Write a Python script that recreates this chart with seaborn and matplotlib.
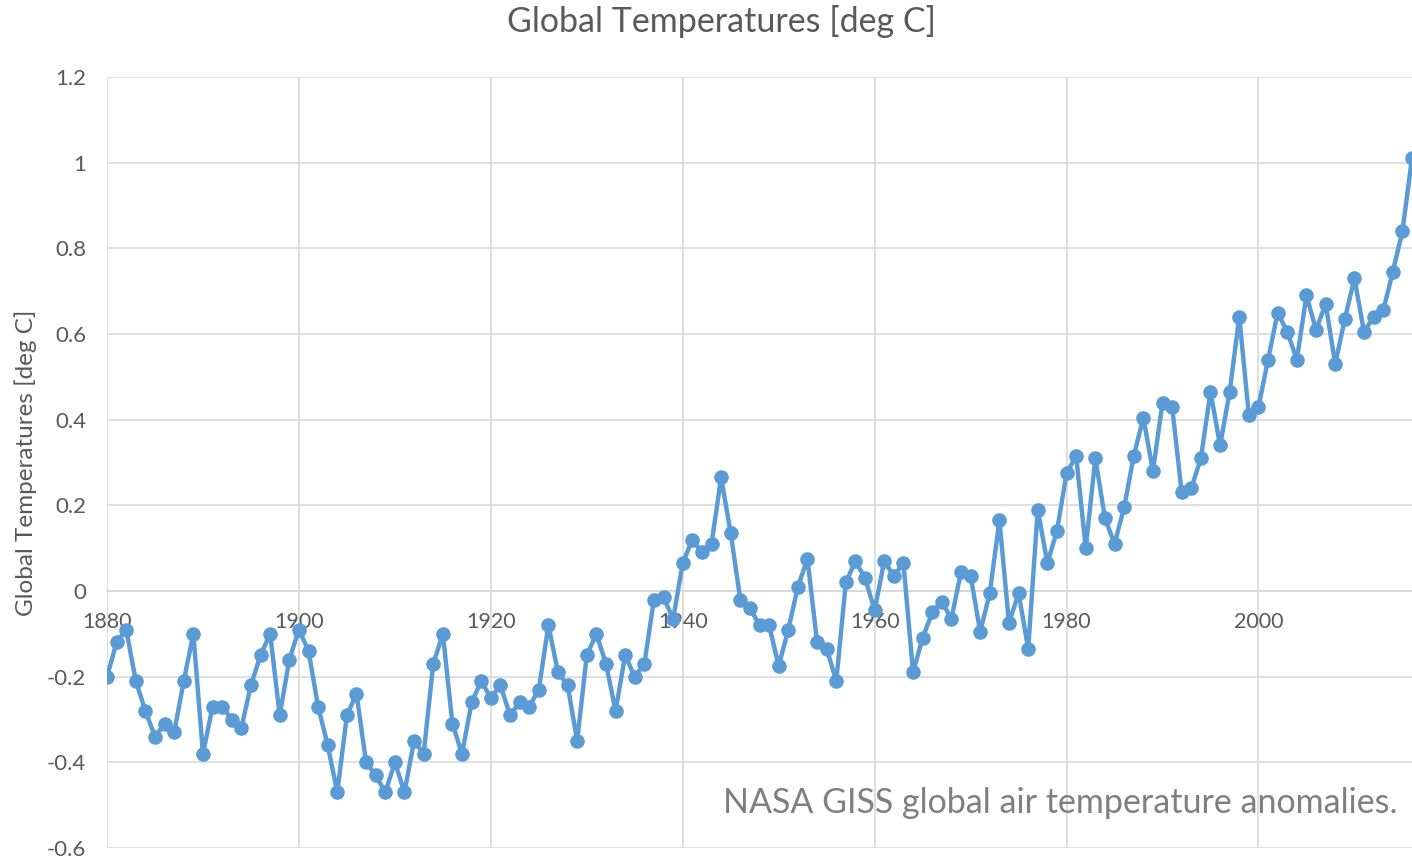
import matplotlib
matplotlib.use("Agg")
import matplotlib.pyplot as plt
import seaborn as sns
import pandas as pd

# NASA GISS annual anomalies
years = list(range(1880, 2017))
temps = [
    -0.20, -0.12, -0.09, -0.21, -0.28, -0.34, -0.31, -0.33, -0.21, -0.10,   # 1880s
    -0.38, -0.27, -0.27, -0.30, -0.32, -0.22, -0.15, -0.10, -0.29, -0.16,   # 1890s
    -0.09, -0.14, -0.27, -0.36, -0.47, -0.29, -0.24, -0.40, -0.43, -0.47,   # 1900s
    -0.40, -0.47, -0.35, -0.38, -0.17, -0.10, -0.31, -0.38, -0.26, -0.21,   # 1910s
    -0.25, -0.22, -0.29, -0.26, -0.27, -0.23, -0.08, -0.19, -0.22, -0.35,   # 1920s
    -0.15, -0.10, -0.17, -0.28, -0.15, -0.20, -0.17, -0.02, -0.015, -0.065, # 1930s
    0.065, 0.12, 0.09, 0.11, 0.265, 0.135, -0.02, -0.04, -0.08, -0.08,      # 1940s
    -0.175, -0.09, 0.01, 0.075, -0.12, -0.135, -0.21, 0.02, 0.07, 0.03,     # 1950s
    -0.045, 0.07, 0.035, 0.065, -0.19, -0.11, -0.05, -0.025, -0.065, 0.045, # 1960s
    0.035, -0.095, -0.005, 0.165, -0.075, -0.005, -0.135, 0.19, 0.065, 0.14, # 1970s
    0.275, 0.315, 0.10, 0.31, 0.17, 0.11, 0.195, 0.315, 0.405, 0.28,        # 1980s
    0.44, 0.43, 0.23, 0.24, 0.31, 0.465, 0.34, 0.465, 0.64, 0.41,           # 1990s
    0.43, 0.54, 0.65, 0.605, 0.54, 0.69, 0.61, 0.67, 0.53, 0.635,           # 2000s
    0.73, 0.605, 0.64, 0.655, 0.745, 0.84, 1.01,                            # 2010s
]
x_ticks = [1880, 1900, 1920, 1940, 1960, 1980, 2000]
y_ticks = [-0.6, -0.4, -0.2, 0, 0.2, 0.4, 0.6, 0.8, 1, 1.2]
y_labels = ["-0.6", "-0.4", "-0.2", "0", "0.2", "0.4", "0.6", "0.8", "1", "1.2"]

title = "Global Temperatures [deg C]"
note = "NASA GISS global air temperature anomalies."

df = pd.DataFrame({"year": years, "temp": temps})

sns.set_theme(style="whitegrid")
plt.rcParams["font.family"] = ["Lato", "DejaVu Sans"]
text_color = "#595959"
grid_color = "#D9D9D9"
blue = "#5B9BD5"

fig = plt.figure(figsize=(14.12, 8.58), dpi=100)
ax = fig.add_axes([107 / 1412, 10 / 858, 1305 / 1412, 771 / 858])

sns.lineplot(data=df, x="year", y="temp", ax=ax, color=blue, linewidth=3.2,
             marker="o", markersize=10.5, markeredgewidth=0, zorder=3)

ax.set_xlim(1880, 2016)
ax.set_ylim(-0.6, 1.2)
ax.set_xticks(x_ticks)
ax.set_yticks(y_ticks)
ax.set_yticklabels(y_labels)

ax.grid(True, color=grid_color, linewidth=1.2)
for side in ["top", "right", "left"]:
    ax.spines[side].set_visible(False)
# x axis crosses at zero, like the original spreadsheet chart
ax.spines["bottom"].set_position(("data", 0))
ax.spines["bottom"].set_color(grid_color)
ax.tick_params(axis="x", length=0, pad=15, labelsize=15.5, labelcolor=text_color)
ax.tick_params(axis="y", length=0, pad=15, labelsize=16, labelcolor=text_color)

ax.set_xlabel("")
ax.set_ylabel(title, fontsize=17.5, color=text_color)
ax.yaxis.set_label_coords(-0.054, 0.5)

fig.text(721 / 1412, 1 - 22 / 858, title, ha="center", va="center",
         fontsize=24.5, color=text_color)
ax.text(0.989, 0.058, note, transform=ax.transAxes, ha="right", va="center",
        fontsize=24.5, color="#7F7F7F")

fig.savefig("out.png", dpi=100)
